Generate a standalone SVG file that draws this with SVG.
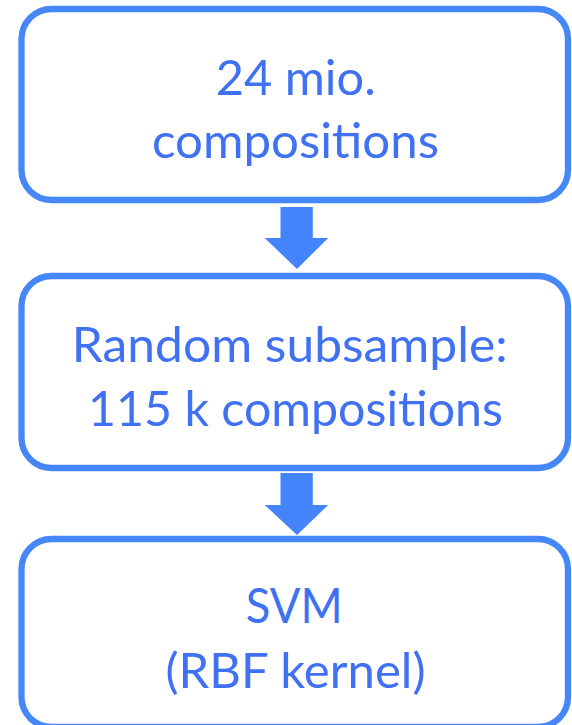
<svg xmlns="http://www.w3.org/2000/svg" width="572" height="725" viewBox="0 0 572 725">
<style>
.box{fill:#ffffff;stroke:#4687f8;stroke-width:6.3}
.t{font-family:Lato,"Open Sans","Liberation Sans",sans-serif;font-size:48px;fill:#3f71f2;text-anchor:middle}
.arr{fill:#4484fb}
</style>
<rect width="572" height="725" fill="#ffffff"/>
<g id="connectors">
<polygon class="arr" points="280.5,207 312.8,207 312.8,238 328.2,238 297,269 264.7,238 280.5,238"/>
<polygon class="arr" points="280.5,473 312.8,473 312.8,505 328.2,505 297,535 264.7,505 280.5,505"/>
</g>
<g id="node1">
<rect class="box" x="21.5" y="9" width="546.5" height="191" rx="30"/>
<text class="t" x="295.7" y="95" textLength="160" lengthAdjust="spacingAndGlyphs">24 mio.</text>
<text class="t" x="295.5" y="158" textLength="287" lengthAdjust="spacingAndGlyphs">compositions</text>
</g>
<g id="node2">
<rect class="box" x="21.5" y="276" width="546.5" height="192" rx="30"/>
<text class="t" x="289.7" y="362" textLength="436" lengthAdjust="spacingAndGlyphs">Random subsample:</text>
<text class="t" x="295.5" y="426" textLength="415" lengthAdjust="spacingAndGlyphs">115 k compositions</text>
</g>
<g id="node3">
<rect class="box" x="21.5" y="539" width="546.5" height="188" rx="30"/>
<text class="t" x="294.3" y="623" textLength="97" lengthAdjust="spacingAndGlyphs">SVM</text>
<text class="t" x="295.5" y="688" textLength="260" lengthAdjust="spacingAndGlyphs">(RBF kernel)</text>
</g>
</svg>
